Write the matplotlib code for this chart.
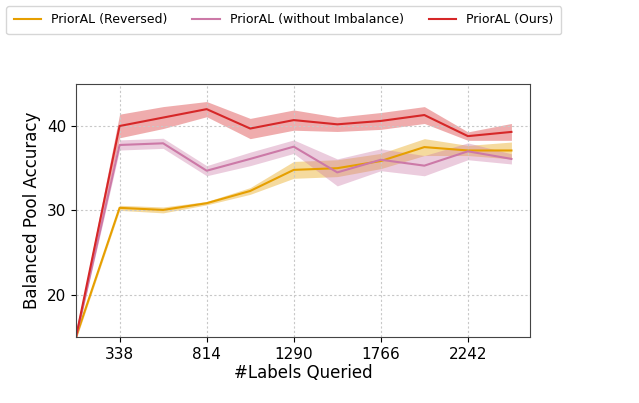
import matplotlib.pyplot as plt
import numpy as np

x = [100, 338, 576, 814, 1052, 1290, 1528, 1766, 2004, 2242, 2480]

# PriorAL (Reversed)
rev_mean = [15.0, 30.3, 30.05, 30.85, 32.3, 34.8, 35.0, 35.85, 37.5, 37.1, 37.1]
rev_std = [0.3, 0.3, 0.35, 0.2, 0.4, 1.0, 1.0, 0.9, 1.0, 0.6, 1.0]
# PriorAL (without Imbalance)
noimb_mean = [15.0, 37.75, 37.95, 34.7, 36.1, 37.55, 34.5, 36.0, 35.3, 37.0, 36.1]
noimb_std = [0.3, 0.6, 0.6, 0.6, 0.8, 0.8, 1.6, 1.3, 1.2, 1.0, 0.6]
# PriorAL (Ours)
ours_mean = [15.0, 40.0, 41.0, 42.0, 39.7, 40.7, 40.2, 40.6, 41.3, 38.8, 39.3]
ours_std = [0.3, 1.4, 1.3, 0.9, 1.2, 1.2, 0.85, 1.0, 1.0, 0.5, 1.0]

series = [
    ('PriorAL (Reversed)', rev_mean, rev_std, '#E69F00'),
    ('PriorAL (without Imbalance)', noimb_mean, noimb_std, '#CC79A7'),
    ('PriorAL (Ours)', ours_mean, ours_std, '#D62728'),
]

fig = plt.figure(figsize=(6.39, 4.03), dpi=100)
ax = fig.add_axes([0.119, 0.164, 0.710, 0.628])

for label, m, s, c in series:
    m = np.array(m)
    s = np.array(s)
    ax.plot(x, m, color=c, lw=1.5, label=label)
    ax.fill_between(x, m - s, m + s, color=c, alpha=0.38, lw=0)

ax.set_xlim(100, 2580)
ax.set_ylim(15, 45)
ax.set_xticks([338, 814, 1290, 1766, 2242])
ax.set_yticks([20, 30, 40])
ax.tick_params(axis='both', labelsize=11)
ax.grid(True, linestyle=(0, (2, 2)), color='#c8c8c8', lw=0.8)
ax.set_xlabel('#Labels Queried', fontsize=12, labelpad=2)
ax.set_ylabel('Balanced Pool Accuracy', fontsize=12)
for sp in ax.spines.values():
    sp.set_color('#444444')

fig.legend(loc='upper left', bbox_to_anchor=(6 / 639, 1 - 6 / 403), ncol=3, fontsize=9,
           frameon=True, handlelength=2.2, columnspacing=2.0, borderaxespad=0,
           borderpad=0.6)

plt.savefig('out.png', dpi=100)
